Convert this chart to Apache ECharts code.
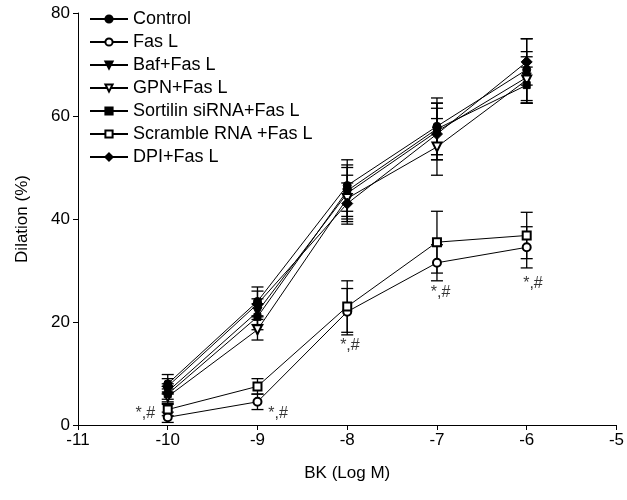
<!DOCTYPE html>
<html><head><meta charset="utf-8">
<script src="https://cdn.jsdelivr.net/npm/echarts@6/dist/echarts.min.js"></script>
<style>html,body{margin:0;padding:0;background:#fff}#c{width:627px;height:500px}</style>
</head><body><div id="c"></div>
<script>
var xs = [-10, -9, -8, -7, -6];
var seriesNames = ['Control','Fas L','Baf+Fas L','GPN+Fas L','Sortilin siRNA+Fas L','Scramble RNA +Fas L','DPI+Fas L'];
var control   = [8.0, 24.0, 46.5, 58.0, 69.0];
var fasL      = [1.5, 4.5, 22.0, 31.5, 34.5];
var baf       = [6.5, 22.0, 45.0, 57.0, 67.5];
var gpn       = [5.5, 18.5, 44.0, 54.0, 67.0];
var sortilin  = [6.0, 21.0, 45.5, 57.5, 66.0];
var scramble  = [3.0, 7.5, 23.0, 35.5, 36.8];
var dpi       = [7.5, 23.5, 43.0, 56.5, 70.5];
var errControl  = [1.8, 2.8, 5.0, 5.5, 6.0];
var errFasL     = [1.0, 1.5, 4.5, 3.5, 4.0];
var errBaf      = [1.5, 2.5, 5.0, 5.5, 5.0];
var errGpn      = [1.5, 2.0, 4.5, 5.5, 4.5];
var errSortilin = [1.5, 2.5, 5.0, 5.0, 3.5];
var errScramble = [1.2, 1.5, 5.0, 6.0, 4.5];
var errDpi      = [1.5, 2.5, 4.0, 5.0, 4.5];
var yTicks = [0, 20, 40, 60, 80];
var xTicks = [-11, -10, -9, -8, -7, -6, -5];
var annX = [-10.25, -8.77, -7.97, -6.96, -5.93];
var annY = [2.2, 2.2, 15.5, 25.8, 27.5];
var annText = '*,#';

var values = [control, fasL, baf, gpn, sortilin, scramble, dpi];
var errs = [errControl, errFasL, errBaf, errGpn, errSortilin, errScramble, errDpi];
var symbols = ['circle','emptyCircle','triangle','emptyTriangle','rect','emptyRect','diamond'];
var rotates = [0,0,180,180,0,0,0];
var sizes = [8,8,9,9,7,8,11];

var series = [];
values.forEach(function(v, i){
  series.push({
    type: 'custom', name: seriesNames[i] + '_err', silent: true, z: 1,
    data: xs.map(function(x, k){ return [x, v[k] - errs[i][k], v[k] + errs[i][k]]; }),
    renderItem: function(params, api){
      var lo = api.coord([api.value(0), api.value(1)]);
      var hi = api.coord([api.value(0), api.value(2)]);
      var w = 6;
      return {type:'group', children:[
        {type:'line', shape:{x1:lo[0],y1:lo[1],x2:hi[0],y2:hi[1]}, style:{stroke:'#000',lineWidth:1.3}},
        {type:'line', shape:{x1:lo[0]-w,y1:lo[1],x2:lo[0]+w,y2:lo[1]}, style:{stroke:'#000',lineWidth:1.3}},
        {type:'line', shape:{x1:hi[0]-w,y1:hi[1],x2:hi[0]+w,y2:hi[1]}, style:{stroke:'#000',lineWidth:1.3}}
      ]};
    }
  });
});
values.forEach(function(v, i){
  series.push({
    type: 'line', name: seriesNames[i], z: 3,
    data: xs.map(function(x, k){ return [x, v[k]]; }),
    symbol: symbols[i], symbolSize: sizes[i], symbolRotate: rotates[i],
    showAllSymbol: true,
    lineStyle: {color:'#000', width:1},
    itemStyle: {color:'#000', borderColor:'#000', borderWidth:1},
    emphasis: {disabled:true}
  });
});
series.push({
  type: 'scatter', name: 'ann', symbolSize: 0, silent: true,
  data: annX.map(function(x, k){ return [x, annY[k]]; }),
  label: {show:true, position:'inside', formatter: annText, color:'#000', fontSize:16, fontFamily:'Liberation Sans, Arial'}
});

var chart = echarts.init(document.getElementById('c'), null, {renderer:'canvas'});
chart.setOption({
  backgroundColor: '#fff',
  animation: false,
  textStyle: {fontFamily: 'Liberation Sans, Arial, sans-serif'},
  grid: {left: 78, right: 9, top: 13, bottom: 75},
  legend: {
    data: seriesNames, orient: 'vertical', left: 84, top: 5,
    itemWidth: 38, itemHeight: 9, itemGap: 5,
    textStyle: {fontSize: 18, color:'#000', fontFamily:'Liberation Sans, Arial'},
    selectedMode: false
  },
  xAxis: {
    type: 'value', min: -11, max: -5, interval: 1,
    name: 'BK (Log M)', nameLocation: 'middle', nameGap: 40,
    nameTextStyle: {fontSize: 17, color:'#000'},
    axisLine: {show:true, onZero:false, lineStyle:{color:'#000', width:1}},
    axisTick: {show:true, length:5, lineStyle:{color:'#000'}},
    axisLabel: {fontSize:17, color:'#000', margin:7},
    splitLine: {show:false}
  },
  yAxis: {
    type: 'value', min: 0, max: 80, interval: 20,
    name: 'Dilation (%)', nameLocation: 'middle', nameGap: 47,
    nameTextStyle: {fontSize: 17, color:'#000'},
    axisLine: {show:true, lineStyle:{color:'#000', width:1}},
    axisTick: {show:true, length:5, lineStyle:{color:'#000'}},
    axisLabel: {fontSize:17, color:'#000', margin:8},
    splitLine: {show:false}
  },
  series: series
});
</script></body></html>
